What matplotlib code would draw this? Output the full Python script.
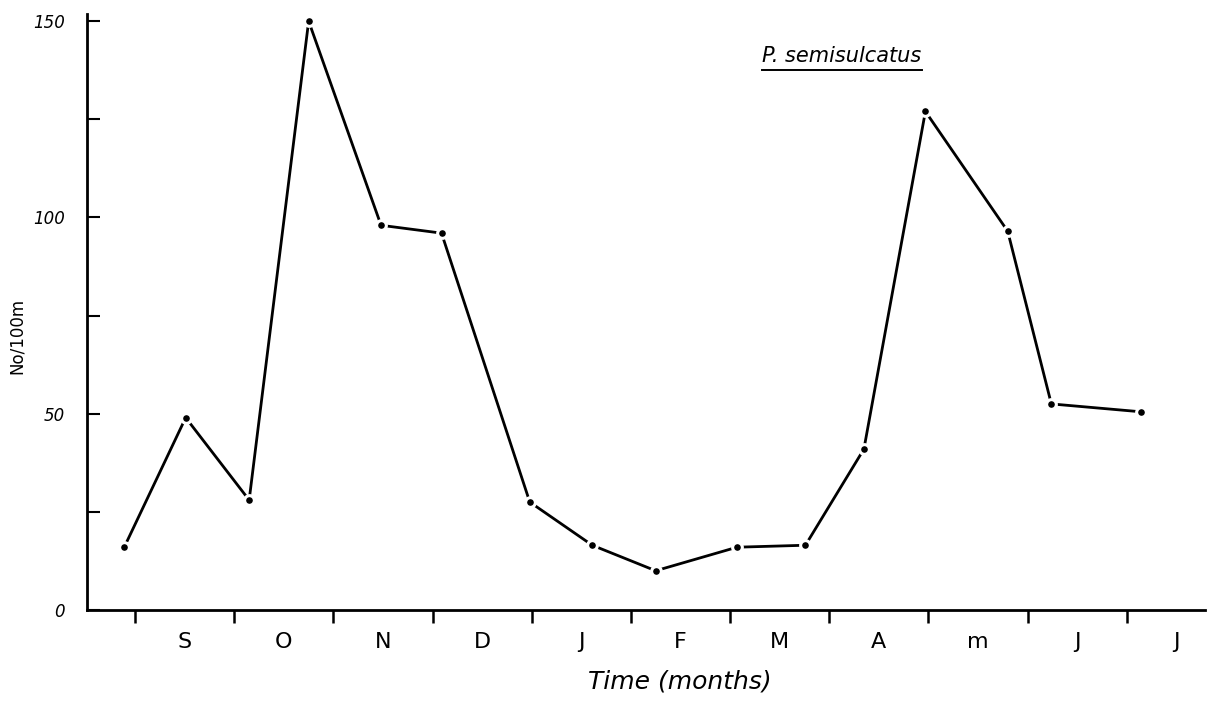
import numpy as np
import matplotlib
matplotlib.use('Agg')
import matplotlib.pyplot as plt
from matplotlib.lines import Line2D

# sampling times, in months from the first tick (start of September)
sample_month = [-0.11, 0.51, 1.15, 1.75, 2.48, 3.09, 3.98, 4.61, 5.25,
                6.07, 6.76, 7.35, 7.97, 8.80, 9.24, 10.14]
# catch, No/100 m
catch = [16, 49, 28, 150, 98, 96, 27.5, 16.5, 10,
         16, 16.5, 41, 127, 96.5, 52.5, 50.5]

month_labels = ['S', 'O', 'N', 'D', 'J', 'F', 'M', 'A', 'm', 'J', 'J']
y_major = [0, 50, 100, 150]
y_minor = [25, 75, 125]

fig = plt.figure(figsize=(12.14, 7.04), dpi=100)
ax = fig.add_axes([0.0717, 0.1335, 0.9209, 0.8465])

ax.plot(sample_month, catch, color='black', lw=2.0,
        marker='o', ms=7, mfc='black', mec='white', mew=2.2,
        solid_joinstyle='round', clip_on=False, zorder=3)

ax.set_xlim(-0.485, 10.79)
ax.set_ylim(0, 151.8)

for side in ['top', 'right']:
    ax.spines[side].set_visible(False)
for side in ['left', 'bottom']:
    ax.spines[side].set_linewidth(2.0)

# x: tick marks at month boundaries, letters in between
ax.set_xticks(range(len(month_labels)))
ax.set_xticklabels([])
ax.set_xticks(np.arange(len(month_labels)) + 0.5, minor=True)
ax.set_xticklabels(month_labels, minor=True, fontsize=16)
ax.tick_params(axis='x', which='major', direction='out', length=9, width=1.8)
ax.tick_params(axis='x', which='minor', length=0, pad=16)

# y: short inward ticks
ax.set_yticks(y_major)
ax.set_yticklabels([str(v) for v in y_major], fontsize=12, fontstyle='italic')
ax.set_yticks(y_minor, minor=True)
ax.tick_params(axis='y', which='both', direction='in', length=9, width=1.5, pad=16)

ax.set_xlabel('Time (months)', fontsize=18, fontstyle='italic')
ax.xaxis.set_label_coords(0.53, -0.10)
ax.set_ylabel('No/100m', fontsize=12)
ax.yaxis.set_label_coords(-0.055, 0.46)

title = ax.text(0.604, 0.92, 'P. semisulcatus', transform=ax.transAxes,
                fontsize=15, fontstyle='italic', ha='left', va='baseline')

# underline the species name
fig.canvas.draw()
bb = title.get_window_extent().transformed(fig.transFigure.inverted())
fig.add_artist(Line2D([bb.x0, bb.x1], [bb.y0 - 0.006, bb.y0 - 0.006],
                      color='black', lw=1.4, transform=fig.transFigure))

fig.savefig('out.png', dpi=100)
